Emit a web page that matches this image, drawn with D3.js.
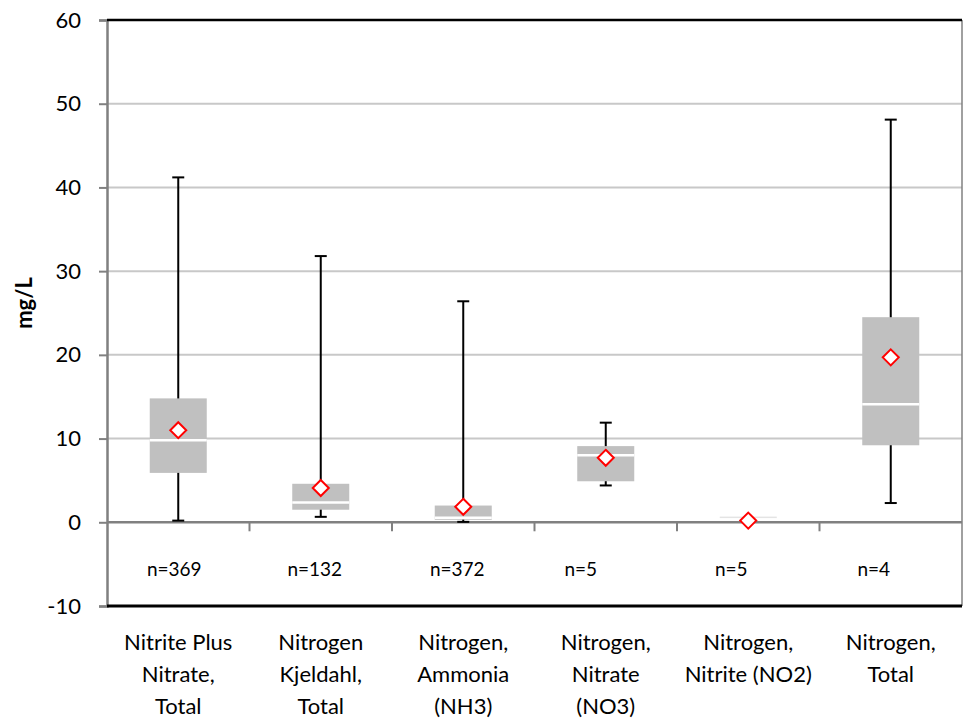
<!DOCTYPE html>
<html><head><meta charset="utf-8">
<script src="https://cdn.jsdelivr.net/npm/d3@7"></script>
<style>body{margin:0;background:#fff;} svg{display:block;font-family:Lato,"Open Sans",sans-serif;}</style>
</head><body><svg id="c" width="963" height="721"></svg>
<script>
const categories = [["Nitrite Plus","Nitrate,","Total"],["Nitrogen","Kjeldahl,","Total"],["Nitrogen,","Ammonia","(NH3)"],["Nitrogen,","Nitrate","(NO3)"],["Nitrogen,","Nitrite (NO2)"],["Nitrogen,","Total"]];
const counts = ["n=369","n=132","n=372","n=5","n=5","n=4"];
const minVals = [0.2, 0.65, 0.05, 4.4, 0.5, 2.3];
const q1Vals = [5.9, 1.5, 0.3, 4.9, 0.5, 9.2];
const medianVals = [9.8, 2.35, 0.55, 8.0, 0.6, 14.1];
const q3Vals = [14.8, 4.6, 2.0, 9.1, 0.68, 24.5];
const maxVals = [41.2, 31.8, 26.4, 11.9, 0.68, 48.1];
const meanVals = [11.0, 4.1, 1.85, 7.7, 0.2, 19.7];
const yTicks = [-10, 0, 10, 20, 30, 40, 50, 60];

// layout: horizontal offsets of the n= labels from band centres (px)
const countOffsets = [-4, -6, -6, -25, -17, -17];

const svg = d3.select("#c");
const L = 107, R = 962, T = 20, B = 606;
const x = d3.scaleBand().domain(d3.range(categories.length)).range([L, R]);
const y = d3.scaleLinear().domain([-10, 60]).range([B, T]);

// gridlines
svg.append("g").selectAll("line").data(yTicks.filter(v => v > 0 && v < 60)).join("line")
  .attr("x1", L).attr("x2", R).attr("y1", d => y(d)).attr("y2", d => y(d))
  .attr("stroke", "#c8c8c8").attr("stroke-width", 2);

// y axis
const yAxis = svg.append("g").attr("transform", `translate(${L},0)`)
  .call(d3.axisLeft(y).tickValues(yTicks).tickSize(8).tickPadding(18).tickFormat(d => String(d)));
yAxis.select(".domain").attr("stroke", "#808080").attr("stroke-width", 2.5);
yAxis.selectAll(".tick line").attr("stroke", "#808080").attr("stroke-width", 2);
yAxis.selectAll("text").attr("font-size", 22).attr("fill", "#000").attr("font-family", "Lato,'Open Sans',sans-serif");

// right border
svg.append("line").attr("x1", R).attr("x2", R).attr("y1", T).attr("y2", B).attr("stroke", "#808080").attr("stroke-width", 1.5);
// top and bottom borders
svg.append("line").attr("x1", L).attr("x2", R).attr("y1", T).attr("y2", T).attr("stroke", "#000").attr("stroke-width", 2.5);
svg.append("line").attr("x1", L).attr("x2", R).attr("y1", B).attr("y2", B).attr("stroke", "#000").attr("stroke-width", 3);

// x axis at 0
const xAxis = svg.append("g").attr("transform", `translate(0,${y(0)})`);
xAxis.append("line").attr("x1", L).attr("x2", R).attr("stroke", "#808080").attr("stroke-width", 2.5);
xAxis.selectAll("line.tk").data(d3.range(1, categories.length)).join("line").attr("class", "tk")
  .attr("x1", d => x(d)).attr("x2", d => x(d)).attr("y1", 0).attr("y2", 9)
  .attr("stroke", "#808080").attr("stroke-width", 2);

const bw = 57, cap = 12;
const g = svg.append("g");
categories.forEach((c, i) => {
  const cx = x(i) + x.bandwidth() / 2;
  const h = y(q1Vals[i]) - y(q3Vals[i]);
  if (y(minVals[i]) - y(maxVals[i]) > 3) {
    g.append("line").attr("x1", cx).attr("x2", cx).attr("y1", y(minVals[i])).attr("y2", y(maxVals[i])).attr("stroke", "#000").attr("stroke-width", 2);
    [minVals[i], maxVals[i]].forEach(v => g.append("line").attr("x1", cx - cap / 2).attr("x2", cx + cap / 2).attr("y1", y(v)).attr("y2", y(v)).attr("stroke", "#000").attr("stroke-width", 2));
  }
  g.append("rect").attr("x", cx - bw / 2).attr("width", bw).attr("y", y(q3Vals[i])).attr("height", h).attr("fill", h > 3 ? "#c0c0c0" : "#e4e4e4");
  if (h > 3) g.append("line").attr("x1", cx - bw / 2).attr("x2", cx + bw / 2).attr("y1", y(medianVals[i])).attr("y2", y(medianVals[i])).attr("stroke", "#fff").attr("stroke-width", 2.5);
  const my = y(meanVals[i]), s = 8;
  g.append("path").attr("d", `M${cx},${my - s}L${cx + s},${my}L${cx},${my + s}L${cx - s},${my}Z`)
    .attr("fill", "#fff").attr("stroke", "#ff0000").attr("stroke-width", 2);
});

// n labels
svg.append("g").selectAll("text").data(counts).join("text")
  .attr("x", (d, i) => x(i) + x.bandwidth() / 2 + countOffsets[i]).attr("y", 576).attr("text-anchor", "middle")
  .attr("font-size", 19).attr("fill", "#000").text(d => d);

// category labels
categories.forEach((lines, i) => {
  const t = svg.append("text").attr("x", x(i) + x.bandwidth() / 2).attr("y", 650).attr("text-anchor", "middle").attr("font-size", 22).attr("fill", "#000");
  lines.forEach((l, k) => t.append("tspan").attr("x", x(i) + x.bandwidth() / 2).attr("dy", k ? 32 : 0).text(l));
});

// y title
svg.append("text").attr("transform", `translate(32,${(T + B) / 2 - 10}) rotate(-90)`).attr("text-anchor", "middle")
  .attr("font-size", 22).attr("font-weight", "bold").attr("fill", "#000").text("mg/L");
</script></body></html>
